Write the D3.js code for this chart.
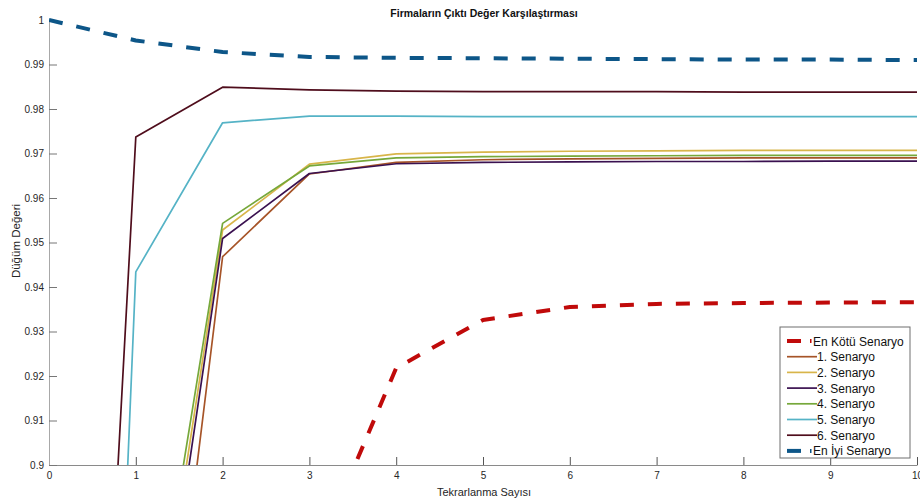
<!DOCTYPE html>
<html>
<head>
<meta charset="utf-8">
<script src="https://cdn.jsdelivr.net/npm/d3@7"></script>
<style>
    body { margin: 0; background: #fff; }
    svg { font-family: 'Liberation Sans', Arial, sans-serif; }
</style>
</head>
<body>
<div id="chart"></div>
<script>
// iterations on the x axis
const iterations = [0, 1, 2, 3, 4, 5, 6, 7, 8, 9, 10]

// series values (points below 0.9 are clipped by the axes, estimated)
const worstScenario = [0.70, 0.78, 0.84, 0.876, 0.9218, 0.9326, 0.9355, 0.9362, 0.9364, 0.9365, 0.9366]
const scenario1 = [0.60, 0.788, 0.9468, 0.9654, 0.9680, 0.9686, 0.9688, 0.9689, 0.9690, 0.9690, 0.9690]
const scenario2 = [0.62, 0.826, 0.9528, 0.9676, 0.9699, 0.9703, 0.9705, 0.9706, 0.9707, 0.9707, 0.9707]
const scenario3 = [0.61, 0.819, 0.9509, 0.9655, 0.9677, 0.9680, 0.9681, 0.9682, 0.9682, 0.9683, 0.9683]
const scenario4 = [0.63, 0.834, 0.9543, 0.9672, 0.9690, 0.9693, 0.9694, 0.9695, 0.9696, 0.9696, 0.9696]
const scenario5 = [0.476, 0.9434, 0.9769, 0.9784, 0.9784, 0.9783, 0.9783, 0.9783, 0.9783, 0.9783, 0.9783]
const scenario6 = [0.614, 0.9737, 0.9849, 0.9843, 0.9840, 0.9839, 0.9839, 0.9839, 0.9838, 0.9838, 0.9838]
const bestScenario = [1.0, 0.9954, 0.9928, 0.9917, 0.9915, 0.9914, 0.9913, 0.9912, 0.9911, 0.9911, 0.9910]

const seriesNames = ['En Kötü Senaryo', '1. Senaryo', '2. Senaryo', '3. Senaryo',
    '4. Senaryo', '5. Senaryo', '6. Senaryo', 'En İyi Senaryo']
const seriesValues = [worstScenario, scenario1, scenario2, scenario3,
    scenario4, scenario5, scenario6, bestScenario]
const seriesColors = ['#c00a0a', '#a65428', '#d8b54a', '#3a1150',
    '#76a83a', '#55b3c6', '#4f0d1c', '#0d5688']
const seriesDashed = [true, false, false, false, false, false, false, true]

const xTicks = [0, 1, 2, 3, 4, 5, 6, 7, 8, 9, 10]
const yTicks = [0.9, 0.91, 0.92, 0.93, 0.94, 0.95, 0.96, 0.97, 0.98, 0.99, 1]

const width = 920
const height = 501
const margin = { top: 20, right: 3, bottom: 36, left: 49 }

const series = seriesNames.map((name, i) => ({
    name,
    color: seriesColors[i],
    dashed: seriesDashed[i],
    values: iterations.map((it, j) => ({ it, v: seriesValues[i][j] })),
}))

const svg = d3
    .select('#chart')
    .append('svg')
    .attr('width', width)
    .attr('height', height)

// scales
const x = d3
    .scaleLinear()
    .domain([0, 10])
    .range([margin.left, width - margin.right])

const y = d3
    .scaleLinear()
    .domain([0.9, 1])
    .range([height - margin.bottom, margin.top])

// clip lines to the axes box
svg.append('defs')
    .append('clipPath')
    .attr('id', 'plot-clip')
    .append('rect')
    .attr('x', x(0))
    .attr('y', y(1) - 3)
    .attr('width', x(10) - x(0))
    .attr('height', y(0.9) - y(1) + 3)

// x axis (ticks pointing inward)
svg.append('g')
    .attr('transform', `translate(0,${y(0.9)})`)
    .call(d3.axisBottom(x).tickValues(xTicks).tickSizeInner(-8).tickSizeOuter(0).tickPadding(7))
    .call((g) => g.select('.domain').attr('stroke', '#8a8a8a'))
    .call((g) => g.selectAll('.tick line').attr('stroke', '#555'))
    .call((g) => g.selectAll('.tick text').attr('fill', '#262626').style('font-size', '10px'))

// y axis (ticks pointing inward)
svg.append('g')
    .attr('transform', `translate(${x(0)},0)`)
    .call(d3.axisLeft(y).tickValues(yTicks).tickFormat(d3.format('~g')).tickSizeInner(-8).tickSizeOuter(0).tickPadding(5))
    .call((g) => g.select('.domain').attr('stroke', '#a8a8a8'))
    .call((g) => g.selectAll('.tick line').attr('stroke', '#777'))
    .call((g) => g.selectAll('.tick text').attr('fill', '#262626').style('font-size', '10px'))

// lines
const line = d3
    .line()
    .x((d) => x(d.it))
    .y((d) => y(d.v))

svg.append('g')
    .attr('clip-path', 'url(#plot-clip)')
    .selectAll('path')
    .data(series)
    .enter()
    .append('path')
    .attr('fill', 'none')
    .attr('stroke', (d) => d.color)
    .attr('stroke-width', (d) => (d.dashed ? 4 : 1.7))
    .attr('stroke-dasharray', (d) => (d.dashed ? '14,14' : null))
    .attr('stroke-linejoin', 'round')
    .attr('d', (d) => line(d.values))

// title and axis labels
svg.append('text')
    .attr('x', 484)
    .attr('y', 17)
    .attr('text-anchor', 'middle')
    .style('font-size', '10.5px')
    .style('font-weight', 'bold')
    .attr('fill', '#111')
    .text('Firmaların Çıktı Değer Karşılaştırması')

svg.append('text')
    .attr('x', 484)
    .attr('y', 496)
    .attr('text-anchor', 'middle')
    .style('font-size', '11px')
    .attr('fill', '#262626')
    .text('Tekrarlanma Sayısı')

svg.append('text')
    .attr('transform', 'translate(20,241) rotate(-90)')
    .attr('text-anchor', 'middle')
    .style('font-size', '11.5px')
    .attr('fill', '#262626')
    .text('Düğüm Değeri')

// legend
const legendX = 780
const legendY = 327
const rowH = 15.7

const legend = svg.append('g').attr('transform', `translate(${legendX},${legendY})`)

legend.append('rect')
    .attr('width', 130)
    .attr('height', 131)
    .attr('fill', '#fff')
    .attr('stroke', '#6e6e6e')
    .attr('stroke-width', 1)

const rows = legend
    .selectAll('g.row')
    .data(series)
    .enter()
    .append('g')
    .attr('class', 'row')
    .attr('transform', (d, i) => `translate(0,${14 + i * rowH})`)

rows.append('line')
    .attr('x1', 7)
    .attr('x2', (d) => (d.dashed ? 21 : 37))
    .attr('stroke', (d) => d.color)
    .attr('stroke-width', (d) => (d.dashed ? 4 : 1.7))

rows.filter((d) => d.dashed)
    .append('line')
    .attr('x1', 30)
    .attr('x2', 31.5)
    .attr('stroke', (d) => d.color)
    .attr('stroke-width', 4)

rows.append('text')
    .attr('x', (d) => (d.dashed ? 33 : 37))
    .attr('y', 4.5)
    .style('font-size', '12px')
    .attr('fill', '#111')
    .text((d) => d.name)
</script>
</body>
</html>
